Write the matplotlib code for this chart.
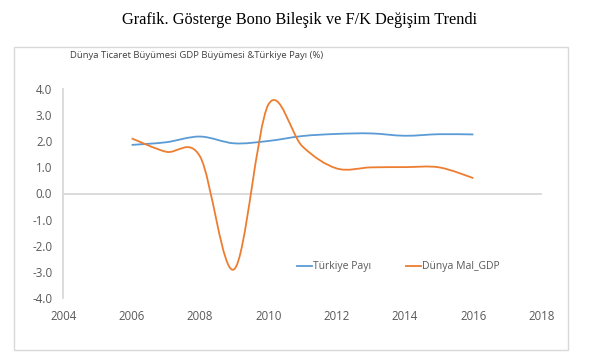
import matplotlib
matplotlib.use("Agg")
import matplotlib.pyplot as plt
from matplotlib.path import Path
from matplotlib.patches import PathPatch, Rectangle
from matplotlib.lines import Line2D

years = [2006, 2007, 2008, 2009, 2010, 2011, 2012, 2013, 2014, 2015, 2016]
turkiye = [1.86, 1.96, 2.18, 1.92, 2.01, 2.2, 2.28, 2.3, 2.21, 2.27, 2.26]
dunya = [2.11, 1.6, 1.42, -2.9, 3.4, 1.8, 0.96, 1.0, 1.01, 1.0, 0.59]
xticks = [2004, 2006, 2008, 2010, 2012, 2014, 2016, 2018]
yticks = [-4, -3, -2, -1, 0, 1, 2, 3, 4]

blue = '#5B9BD5'
orange = '#ED7D31'
grey = '#595959'


def smooth_path(xs, ys):
    # excel style smoothed line: cubic bezier segments through the points
    pts = list(zip(xs, ys))
    verts = [pts[0]]
    codes = [Path.MOVETO]
    n = len(pts)
    for i in range(n - 1):
        p0 = pts[max(i - 1, 0)]
        p1 = pts[i]
        p2 = pts[i + 1]
        p3 = pts[min(i + 2, n - 1)]
        c1 = (p1[0] + (p2[0] - p0[0]) / 6, p1[1] + (p2[1] - p0[1]) / 6)
        c2 = (p2[0] - (p3[0] - p1[0]) / 6, p2[1] - (p3[1] - p1[1]) / 6)
        verts += [c1, c2, p2]
        codes += [Path.CURVE4] * 3
    return Path(verts, codes)


fig = plt.figure(figsize=(6, 3.64), dpi=100)
fig.patch.set_facecolor('white')

# chart frame
fig.patches.append(Rectangle((14 / 600, 1 - 350 / 364), 554 / 600, 303 / 364,
                             transform=fig.transFigure, fill=False,
                             edgecolor='#d9d9d9', lw=1))

fig.text(0.5, 1 - 20 / 364, 'Grafik. Gösterge Bono Bileşik ve F/K Değişim Trendi',
         ha='center', va='center', family='Liberation Serif', fontsize=11.8)
fig.text(70 / 600, 1 - 55 / 364, 'Dünya Ticaret Büyümesi GDP Büyümesi &Türkiye Payı (%)',
         ha='left', va='center', fontsize=6.8, color='#404040', family='Open Sans')

ax = fig.add_axes([63.3 / 600, 1 - 298 / 364, 478.4 / 600, 209 / 364])
ax.add_patch(PathPatch(smooth_path(years, turkiye), fill=False, edgecolor=blue, lw=1.3))
ax.add_patch(PathPatch(smooth_path(years, dunya), fill=False, edgecolor=orange, lw=1.3))

ax.set_xlim(2004, 2018)
ax.set_ylim(-4, 4)
ax.set_xticks(xticks)
ax.set_yticks(yticks)
ax.set_yticklabels(['%.1f' % v for v in yticks])
ax.axhline(0, color='#d9d9d9', lw=1.3, zorder=0)
for s in ['top', 'right', 'bottom']:
    ax.spines[s].set_visible(False)
ax.spines['left'].set_color('#d9d9d9')
ax.spines['left'].set_linewidth(1.3)
ax.tick_params(length=0, labelsize=8.3, colors=grey)
ax.tick_params(axis='x', pad=9)
ax.tick_params(axis='y', pad=8)
for lab in ax.get_xticklabels() + ax.get_yticklabels():
    lab.set_family('Open Sans')

handles = [Line2D([], [], color=blue, lw=1.3), Line2D([], [], color=orange, lw=1.3)]
leg = ax.legend(handles, ['Türkiye Payı', 'Dünya Mal_GDP'], loc='center',
                bbox_to_anchor=(0.70, 0.15), ncol=2, frameon=False,
                prop={'family': 'Open Sans', 'size': 7.5}, handlelength=1.4,
                handletextpad=0.1, columnspacing=3.4)
for t in leg.get_texts():
    t.set_color(grey)

fig.savefig('out.png', dpi=100)
